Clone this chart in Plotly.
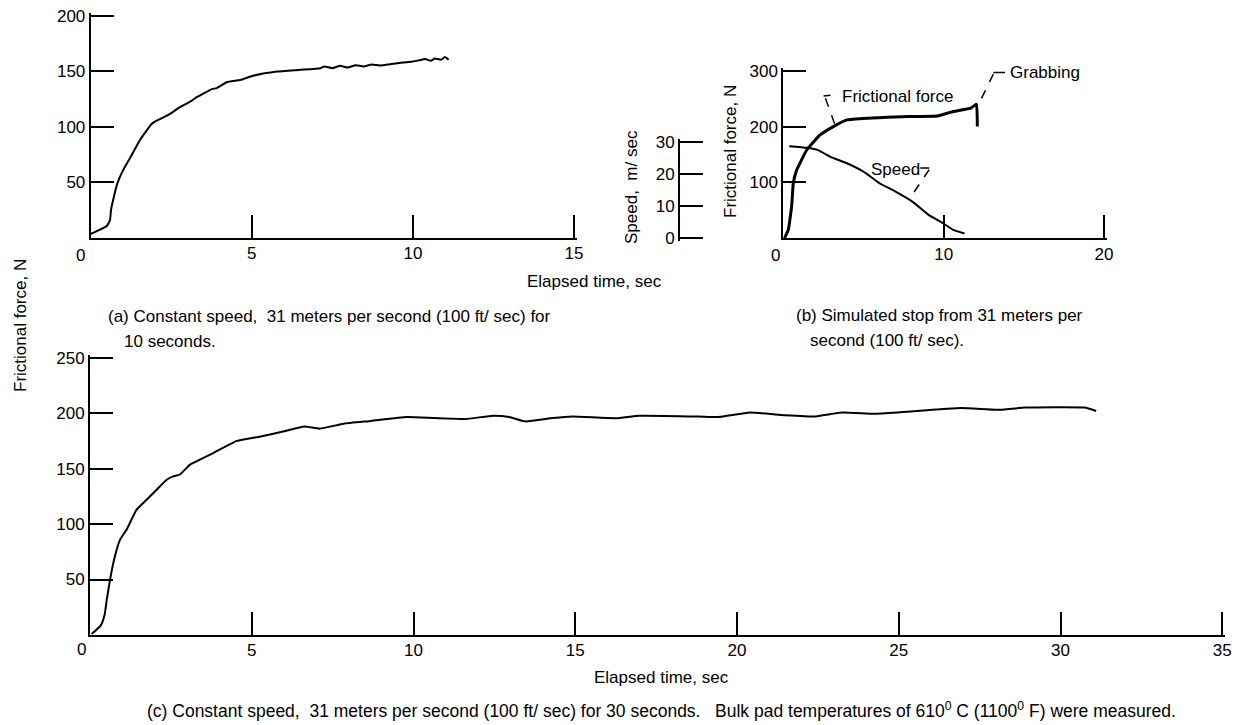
import plotly.graph_objects as go

W, H = 1244, 725
OFF = 8  # default page margin around the figure
FONT = "Liberation Sans, Arial, sans-serif"
FS = 17

# ---------------- data ----------------
# (a) constant speed 10 s
a_time = [0, 0.5, 0.6, 0.63, 0.72, 0.83, 1.01, 1.2, 1.53, 1.89, 2.05, 2.41, 2.77, 3.14, 3.29, 3.76,
          3.91, 4.22, 4.64, 5.04, 5.78, 6.51, 7.13, 7.25, 7.5, 7.74, 7.98, 8.23, 8.47, 8.72, 8.97,
          9.34, 9.58, 9.95, 10.19, 10.38, 10.56, 10.68, 10.87, 10.99, 11.11]
a_force = [3.2, 10.4, 15.8, 24.8, 36.8, 49, 61, 70.5, 88, 102.4, 105.4, 110.6, 117.5, 123.5, 126.5,
           133.8, 134.7, 140, 142, 145.8, 149.6, 151.2, 152.7, 154.2, 152.7, 154.8, 153.3, 155.4,
           154.2, 156, 155.1, 156.4, 157.3, 158.5, 159.7, 160.9, 159.4, 161.5, 160.3, 162.7, 160.3]

# (b) simulated stop
b_time = [0.07, 0.31, 0.52, 0.62, 0.83, 1.46, 2.29, 3.12, 3.97, 5.25, 7.8, 9.6, 10.6, 11.7, 12.05, 12.1]
b_force = [0, 15, 57, 98, 122, 158, 185, 200, 212, 215, 218, 219, 227, 233, 240, 200]
b_speed_time = [0.37, 1.46, 2.17, 2.94, 3.97, 5.0, 6.0, 7.0, 8.05, 9.08, 9.93, 10.6, 11.3]
b_speed = [28.6, 28.1, 27.4, 25.3, 23.3, 20.7, 17.1, 14.5, 11.4, 7.2, 4.8, 2.6, 1.5]

# (c) constant speed 30 s
c_time = [0.05, 0.33, 0.45, 0.52, 0.62, 0.77, 0.93, 1.13, 1.44, 1.75, 2.06, 2.37, 2.57, 2.78, 3.09,
          3.29, 3.81, 4.54, 5.27, 6.0, 6.62, 7.1, 7.84, 8.69, 9.79, 10.64, 11.6, 12.47, 12.96, 13.45,
          14.3, 14.9, 16.25, 16.98, 18.8, 19.43, 20.4, 21.27, 22.38, 23.24, 24.23, 24.97, 26.93,
          28.04, 28.9, 30.74, 31.1]
c_force = [0.9, 8.4, 18, 32, 50, 71, 86, 95, 113, 122, 131, 140, 143, 144.7, 153.6, 156.6, 164, 175,
           179, 183.6, 188, 186, 190.5, 193, 196.5, 195.6, 194.7, 197.7, 196.5, 192.6, 195.6, 197,
           195.5, 197.7, 197, 196.5, 200.6, 198.6, 197, 200.6, 199.5, 200.6, 204.6, 203, 205, 205, 202]

a_xticks = [5, 10, 15]
a_yticks = [50, 100, 150, 200]
b_xticks = [10, 20]
b_yticks = [100, 200, 300]
speed_ticks = [0, 10, 20, 30]
c_xticks = [5, 10, 15, 20, 25, 30, 35]
c_yticks = [50, 100, 150, 200, 250]


def px(x):
    return (x - OFF) / W


def py(y):
    return 1 - (y - OFF) / H


EXT = 2.5  # px of axis beyond the end tick so that plotly keeps the inside end tick


def xspan(p0, p1, v0, v1):
    s = (v1 - v0) / (p1 - p0)
    return [px(p0), px(p1 + EXT)], [v0, v1 + EXT * s]


def yspan(p0, p1, v0, v1, low=False):
    # p0 = pixel row of v0 (bottom), p1 = pixel row of v1 (top)
    s = (v1 - v0) / (p0 - p1)
    lo_p, lo_v = (p0 + EXT, v0 - EXT * s) if low else (p0, v0)
    return [py(lo_p), py(p1 - EXT)], [lo_v, v1 + EXT * s]


fig = go.Figure()
line_style = dict(color="black", width=2, shape="spline", smoothing=0.4)
fig.add_trace(go.Scatter(x=a_time, y=a_force, mode="lines", line=line_style, xaxis="x", yaxis="y"))
fig.add_trace(go.Scatter(x=b_time, y=b_force, mode="lines",
                         line=dict(color="black", width=3, shape="spline", smoothing=0.3),
                         xaxis="x2", yaxis="y2"))
fig.add_trace(go.Scatter(x=b_speed_time, y=b_speed, mode="lines", line=line_style,
                         xaxis="x2", yaxis="y3"))
fig.add_trace(go.Scatter(x=c_time, y=c_force, mode="lines", line=line_style, xaxis="x4", yaxis="y4"))

tickfont = dict(family=FONT, size=FS, color="black")


def ax(span, tickvals, **kw):
    domain, rng = span
    d = dict(domain=domain, range=rng, tickvals=tickvals, ticktext=[str(v) for v in tickvals],
             showline=True, linecolor="black", linewidth=2, showgrid=False, zeroline=False,
             ticks="inside", ticklen=23, tickwidth=2, tickcolor="black", tickfont=tickfont,
             fixedrange=True, automargin=False, ticklabeloverflow="allow")
    d.update(kw)
    return d


XSTAND = -1
fig.update_layout(
    width=W, height=H, margin=dict(l=0, r=0, t=0, b=0, pad=0), autosize=False,
    paper_bgcolor="white", plot_bgcolor="rgba(0,0,0,0)", showlegend=False,
    font=dict(family=FONT, size=FS, color="black"),
    xaxis=ax(xspan(90.7, 574, 0, 15), a_xticks, anchor="y", ticklabelstandoff=XSTAND),
    yaxis=ax(yspan(237.5, 15.7, 0, 200), a_yticks, anchor="x"),
    xaxis2=ax(xspan(783.3, 1104, 0, 20), b_xticks, anchor="y2", ticklabelstandoff=XSTAND),
    yaxis2=ax(yspan(238.3, 70.7, 0, 300), b_yticks, anchor="x2"),
    yaxis3=ax(yspan(238.3, 141.7, 0, 30, low=True), speed_ticks, anchor="free", position=px(679)),
    xaxis4=ax(xspan(90, 1222.3, 0, 35), c_xticks, anchor="y4", ticklabelstandoff=XSTAND),
    yaxis4=ax(yspan(635, 357.7, 0, 250), c_yticks, anchor="x4"),
)

# leader lines (panel b)
dash = dict(color="black", width=1.5, dash="dash")
solid = dict(color="black", width=1.5)
shapes = [
    dict(type="line", xref="x2", yref="y2", x0=2.51, y0=254.6, x1=2.94, y1=256, line=solid),
    dict(type="line", xref="x2", yref="y2", x0=2.63, y0=250.6, x1=3.25, y1=201, line=dash),
    dict(type="line", xref="x2", yref="y2", x0=13.1, y0=297, x1=13.83, y1=297, line=solid),
    dict(type="line", xref="x2", yref="y2", x0=13.1, y0=294, x1=12.18, y1=240, line=dash),
    dict(type="line", xref="x2", yref="y2", x0=8.54, y0=125.8, x1=9.1, y1=125.8, line=solid),
    dict(type="line", xref="x2", yref="y2", x0=9.1, y0=123, x1=7.82, y1=68.6, line=dash),
]
fig.update_layout(shapes=shapes)


def ann(text, x, y, xanchor="center", angle=0, size=FS):
    fig.add_annotation(text=text, x=px(x), y=py(y), xref="paper", yref="paper",
                       xanchor=xanchor, yanchor="middle", showarrow=False, textangle=angle,
                       borderpad=0, font=dict(family=FONT, size=size, color="black"))


# zero labels offset left of origin
ann("0", 80.7, 255)
ann("0", 775, 256)
ann("0", 81, 649)

ann("Elapsed time, sec", 594.5, 281)
ann("Elapsed time, sec", 661, 677)
ann("Frictional force, N", 20, 326, angle=-90)
ann("Frictional force, N", 730, 152, angle=-90)
ann("Speed,  m/ sec", 631, 187, angle=-90)
ann("Frictional force", 897, 96.7)
ann("Grabbing", 1045, 72.3)
ann("Speed", 895.7, 170)

ann("(a) Constant speed,  31 meters per second (100 ft/ sec) for", 107, 317, xanchor="left")
ann("10 seconds.", 122.5, 341.7, xanchor="left")
ann("(b) Simulated stop from 31 meters per", 795, 315, xanchor="left")
ann("second (100 ft/ sec).", 809, 340, xanchor="left")
ann("(c) Constant speed,  31 meters per second (100 ft/ sec) for 30 seconds.   Bulk pad temperatures "
    "of 610<sup>0</sup> C (1100<sup>0</sup> F) were measured.", 661, 710, size=17.5)

fig.write_html("out.html")
